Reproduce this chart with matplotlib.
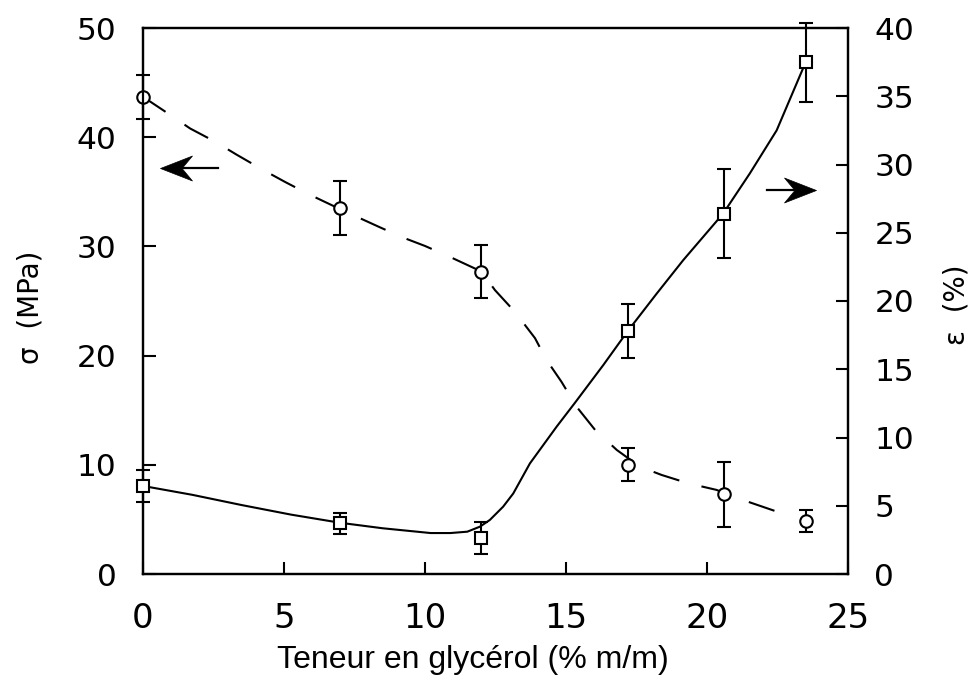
import matplotlib
matplotlib.use("Agg")
import matplotlib.pyplot as plt
from matplotlib.path import Path

# ---- data ----
x_pts = [0, 7, 12, 17.2, 20.6, 23.5]
sigma = [43.7, 33.5, 27.7, 10.0, 7.3, 4.85]
sigma_err = [2.0, 2.45, 2.4, 1.5, 3.0, 1.0]
eps = [6.45, 3.7, 2.65, 17.8, 26.4, 37.5]
eps_err = [1.2, 0.8, 1.15, 2.0, 3.25, 2.9]

# fitted curves
sig_fit_x = [0, 0.93, 1.67, 2.55, 3.32, 4.26, 5.04, 5.86, 7.0, 8.4, 9.23, 10.0, 10.95,
             12.0, 12.48, 13.19, 13.9, 14.31, 14.84, 15.38, 16.03, 16.8, 17.62, 18.39,
             19.34, 20.34, 20.93, 21.7, 22.65]
sig_fit_y = [43.7, 42.1, 40.8, 39.6, 38.4, 37.0, 35.9, 34.8, 33.4, 31.75, 30.8, 30.04, 28.96,
             27.7, 26.0, 24.0, 21.6, 19.6, 17.6, 15.3, 13.2, 11.36, 9.83, 9.07,
             8.3, 7.7, 7.08, 6.4, 5.56]
eps_fit_x = [0, 1.75, 3.5, 5.25, 7, 8.5, 10.2, 10.9, 11.5, 11.95, 12.3, 12.77, 13.13, 13.72,
             14.67, 15.32, 16.32, 17.19, 18.2, 19.16, 20.57, 21.52, 22.47, 23.5]
eps_fit_y = [6.45, 5.8, 5.05, 4.35, 3.75, 3.35, 3.0, 3.0, 3.1, 3.47, 3.96, 4.93, 5.9, 8.1,
             10.8, 12.55, 15.3, 17.8, 20.5, 23.0, 26.4, 29.35, 32.5, 37.5]

x_ticks = [0, 5, 10, 15, 20, 25]
sig_ticks = [0, 10, 20, 30, 40, 50]
eps_ticks = [0, 5, 10, 15, 20, 25, 30, 35, 40]

W, H = 974, 678
fig = plt.figure(figsize=(W / 100, H / 100), dpi=100)
ax = fig.add_axes([143 / W, 1 - 574 / H, 705 / W, 546 / H])
ax2 = ax.twinx()

ax.set_xlim(0, 25)
ax.set_ylim(0, 50)
ax2.set_ylim(0, 40)

# sigma: dashed curve with open circles
ax.plot(sig_fit_x, sig_fit_y, color="black", lw=1.5, dashes=(13, 11), clip_on=False)
ax.errorbar(x_pts, sigma, yerr=sigma_err, fmt="o", ms=9, mfc="white", mec="black",
            mew=1.5, ecolor="black", elinewidth=1.5, capsize=5, capthick=1.5,
            clip_on=False, zorder=3)

# epsilon: solid curve with open squares
ax2.plot(eps_fit_x, eps_fit_y, color="black", lw=1.5, clip_on=False)
ax2.errorbar(x_pts, eps, yerr=eps_err, fmt="s", ms=9, mfc="white", mec="black",
             mew=1.5, ecolor="black", elinewidth=1.5, capsize=5, capthick=1.5,
             clip_on=False, zorder=3)

# barbed arrow heads (custom marker) + shafts
head_left = Path([(-1, 0), (1, 0.78), (0.35, 0), (1, -0.78), (-1, 0)],
                 [Path.MOVETO, Path.LINETO, Path.LINETO, Path.LINETO, Path.CLOSEPOLY])
head_right = Path([(1, 0), (-1, 0.78), (-0.35, 0), (-1, -0.78), (1, 0)],
                  [Path.MOVETO, Path.LINETO, Path.LINETO, Path.LINETO, Path.CLOSEPOLY])
ax.plot([0.0468, 0.1064], [0.7436, 0.7436], transform=ax.transAxes, color="black", lw=1.6)
ax.plot([0.0468], [0.7436], transform=ax.transAxes, marker=head_left, ms=23,
        color="black", mew=0.5)
ax.plot([0.885, 0.932], [0.703, 0.703], transform=ax.transAxes, color="black", lw=1.6)
ax.plot([0.932], [0.703], transform=ax.transAxes, marker=head_right, ms=23,
        color="black", mew=0.5)

for a in (ax, ax2):
    for s in a.spines.values():
        s.set_linewidth(1.6)
        s.set_color("black")

ax.set_xticks(x_ticks)
ax.set_yticks(sig_ticks)
ax2.set_yticks(eps_ticks)
ax.tick_params(axis="x", direction="in", length=9, width=1.5, labelsize=24.5, pad=20)
ax.tick_params(axis="y", direction="in", length=9, width=1.5, labelsize=22.5, pad=19)
ax2.tick_params(axis="y", direction="in", length=9, width=1.5, labelsize=22.5, pad=19)

fig.text(31 / W, 1 - 307 / H, "σ  (MPa)", rotation=90, fontsize=20,
         ha="center", va="center")
fig.text(957 / W, 1 - 305 / H, "ε  (%)", rotation=90, fontsize=20,
         ha="center", va="center")
fig.text(473 / W, 10 / H, "Teneur en glycérol (% m/m)", fontsize=23,
         family="Liberation Sans", ha="center", va="baseline")

fig.savefig("out.png", dpi=100)
